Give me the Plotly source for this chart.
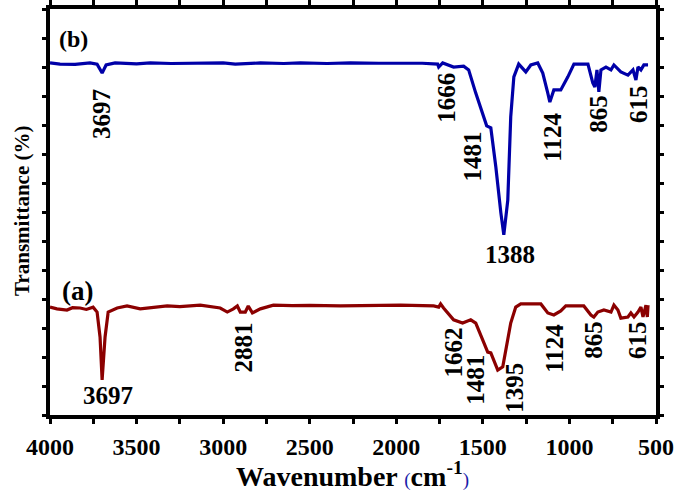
import plotly.graph_objects as go

# Sample (b) - blue spectrum
wn_b = [4000, 3942, 3855, 3769, 3728, 3699, 3676, 3624, 3500, 3421, 3300, 3132, 3000, 2930, 2785,
        2650, 2554, 2400, 2265, 2100, 1975, 1850, 1761, 1755, 1732, 1669, 1611, 1582, 1541, 1501,
        1478, 1454, 1425, 1396, 1379, 1356, 1339, 1321, 1293, 1252, 1223, 1183, 1154, 1125, 1113,
        1090, 1050, 1009, 974, 893, 865, 853, 841, 830, 818, 789, 760, 743, 703, 662, 633, 616,
        604, 587, 570, 546]
tr_b = [12.14, 12.10, 12.09, 12.14, 12.10, 11.79, 12.07, 12.14, 12.11, 12.14, 12.12, 12.12, 12.14, 12.10, 12.14,
        12.12, 12.14, 12.12, 12.14, 12.13, 12.14, 12.13, 12.10, 12.00, 12.14, 12.00, 12.03, 11.90, 11.10, 10.41,
        9.97, 9.90, 8.55, 6.97, 6.21, 7.41, 10.28, 11.66, 12.10, 11.83, 12.07, 12.14, 11.79, 11.10, 10.79,
        11.21, 11.21, 11.66, 12.10, 12.10, 11.45, 11.31, 11.90, 11.14, 11.90, 12.00, 11.90, 12.07, 11.83, 11.72, 11.90, 11.55,
        12.00, 11.90, 12.07, 12.07]

# Sample (a) - dark red spectrum
wn_a = [4000, 3960, 3902, 3870, 3826, 3790, 3751, 3728, 3711, 3699, 3682, 3664, 3612, 3555, 3479, 3400,
        3323, 3250, 3132, 3017, 2976, 2941, 2918, 2901, 2872, 2855, 2831, 2785, 2710, 2600, 2500,
        2322, 2150, 1975, 1784, 1755, 1744, 1727, 1669, 1617, 1570, 1541, 1501, 1472, 1454, 1414,
        1385, 1368, 1339, 1310, 1281, 1165, 1125, 1090, 1050, 1021, 917, 876, 859, 836, 801, 760,
        743, 720, 703, 662, 645, 627, 604, 587, 575, 558, 550, 546]
tr_a = [3.72, 3.66, 3.62, 3.70, 3.69, 3.64, 3.72, 3.55, 2.69, 1.21, 2.69, 3.55, 3.69, 3.76, 3.66, 3.72,
        3.76, 3.74, 3.79, 3.69, 3.55, 3.66, 3.76, 3.55, 3.55, 3.76, 3.52, 3.66, 3.79, 3.77, 3.78,
        3.76, 3.78, 3.79, 3.76, 3.72, 3.83, 3.69, 3.28, 3.17, 3.28, 3.17, 2.59, 2.17, 2.14, 1.55,
        1.66, 2.24, 3.17, 3.72, 3.83, 3.83, 3.52, 3.45, 3.59, 3.76, 3.76, 3.45, 3.38, 3.55, 3.62, 3.55,
        3.79, 3.62, 3.34, 3.38, 3.52, 3.38, 3.55, 3.72, 3.38, 3.79, 3.38, 3.79]

# Peak labels
labels_b = ["3697", "1666", "1481", "1388", "1124", "865", "615"]
labels_a = ["3697", "2881", "1662", "1481", "1395", "1124", "865", "615"]

x_ticks = [4000, 3500, 3000, 2500, 2000, 1500, 1000, 500]

BLUE = "#0000a8"
RED = "#8b0000"
FONT = "Liberation Serif"

fig = go.Figure()
fig.add_trace(go.Scatter(x=wn_b, y=tr_b, mode="lines", line=dict(color=BLUE, width=3.2), showlegend=False))
fig.add_trace(go.Scatter(x=wn_a, y=tr_a, mode="lines", line=dict(color=RED, width=3.2), showlegend=False))

pos_b = [(3699, 10.38, -90), (1715, 10.93, -90), (1559, 8.90, -90), (1345, 5.55, 0),
         (1096, 9.59, -90), (830, 10.38, -90), (604, 10.72, -90)]
pos_a = [(3667, 0.66, 0), (2883, 2.34, -90), (1669, 2.14, -90), (1541, 1.21, -90),
         (1322, 0.93, -90), (1090, 2.31, -90), (859, 2.59, -90), (604, 2.59, -90)]

annotations = []
for txt, (x, y, ang) in list(zip(labels_b, pos_b)) + list(zip(labels_a, pos_a)):
    annotations.append(dict(x=x, y=y, xref="x", yref="y", text="<b>%s</b>" % txt, showarrow=False,
                            textangle=ang, font=dict(family=FONT, size=25, color="black")))
annotations.append(dict(x=3867, y=12.97, xref="x", yref="y", text="<b>(b)</b>", showarrow=False,
                        font=dict(family=FONT, size=24, color="black")))
annotations.append(dict(x=3844, y=4.28, xref="x", yref="y", text="<b>(a)</b>", showarrow=False,
                        font=dict(family=FONT, size=27, color="black")))

L, R, T, B = 50, 19, 9, 76
pw, ph = 675 - L - R, 491 - T - B
# axis titles placed by pixel centre
annotations.append(dict(x=(352 - L) / pw, y=(491 - 474 - B) / ph, xref="paper", yref="paper",
                        xanchor="center", yanchor="middle", showarrow=False,
                        text="<b>Wavenumber </b><span style='color:#1a1aa8;font-weight:normal;font-size:19px'>(</span><b>cm<sup>-1</sup></b><span style='color:#1a1aa8;font-weight:normal;font-size:19px'>)</span>",
                        font=dict(family=FONT, size=28, color="black")))
annotations.append(dict(x=(22 - L) / pw, y=(491 - 211 - B) / ph, xref="paper", yref="paper",
                        xanchor="center", yanchor="middle", showarrow=False, textangle=-90,
                        text="<b>Transmittance (%)</b>", font=dict(family=FONT, size=21, color="black")))

fig.update_layout(
    width=675, height=491,
    margin=dict(l=L, r=R, t=T, b=B, autoexpand=False),
    paper_bgcolor="white", plot_bgcolor="white",
    annotations=annotations,
    xaxis=dict(
        range=[4000, 500], tickvals=x_ticks, ticktext=[str(v) for v in x_ticks],
        ticks="outside", ticklen=5, tickwidth=3, tickcolor="black",
        showline=True, linewidth=4, linecolor="black", mirror="allticks",
        showgrid=False, zeroline=False, automargin=False, ticklabelstandoff=2,
        tickfont=dict(family=FONT, size=24, color="black", weight="bold"),
        minor=dict(dtick=250, tick0=500, ticks="outside", ticklen=5, tickwidth=3, tickcolor="black", showgrid=False),
    ),
    yaxis=dict(
        range=[0, 14], dtick=1, tick0=0, showticklabels=False,
        ticks="outside", ticklen=4, tickwidth=3, tickcolor="black",
        showline=True, linewidth=4, linecolor="black", mirror="allticks",
        showgrid=False, zeroline=False, automargin=False,
    ),
)

fig.write_html("out.html")
